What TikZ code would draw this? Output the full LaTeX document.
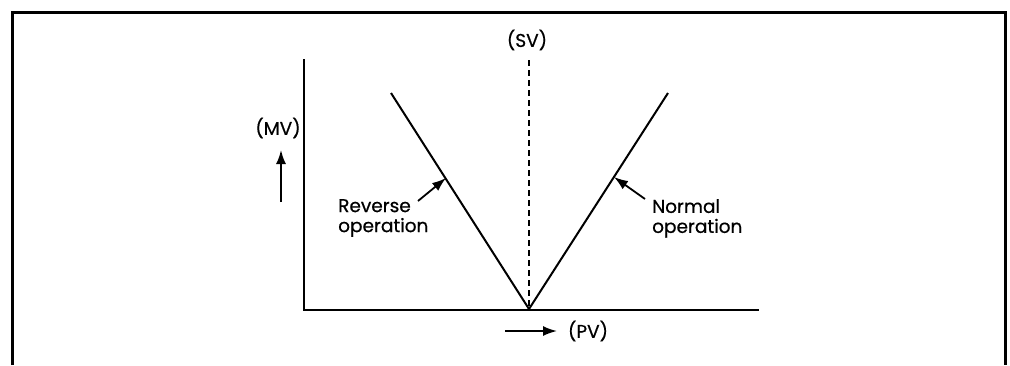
\documentclass[tikz,border=0pt]{standalone}
\usepackage{fontspec}
\setmainfont{Poppins}[FakeBold=0.6]
\usetikzlibrary{arrows.meta}
\begin{document}
\begin{tikzpicture}[x=1pt,y=-1pt,
  lbl/.style={inner sep=0pt,font=\fontsize{18.5}{20}\selectfont},
  multi/.style={lbl,align=left},
  graphline/.style={line width=2pt},
  ptr/.style={line width=1.8pt,-{Latex[length=14pt,width=10pt]}}]
\useasboundingbox (0,0) rectangle (1010,365);
% frame (open at the bottom)
\draw[line width=3pt] (12,365) -- (12,12) -- (1005,12) -- (1005,365);
% axes
\coordinate (top) at (304,59);
\coordinate (o) at (304,310);
\coordinate (right) at (759,310);
\draw[graphline,line width=2.2pt] (top) -- (o) -- (right);
% V lines
\coordinate (v) at (529,309);
\coordinate (lt) at (391,93);
\coordinate (rt) at (668,93);
\draw[graphline] (lt) -- (v) -- (rt);
% SV dashed line
\node[lbl] (sv) at (527,40) {(SV)};
\coordinate (svb) at (529,306);
\draw[line width=1.6pt,dash pattern=on 6pt off 4pt] (529,60) -- (svb);
% MV
\node[lbl] (mv) at (278,128) {(MV)};
\coordinate (mvt) at (281,202);
\coordinate (mvh) at (281,150);
\draw[ptr] (mvt) -- (mvh);
% PV
\node[lbl] (pv) at (588,331) {(PV)};
\coordinate (pvt) at (505,331);
\coordinate (pvh) at (557,331);
\draw[ptr] (pvt) -- (pvh);
% Reverse operation
\node[multi,anchor=north west] (rev) at (338,199) {Reverse\\operation};
\coordinate (revt) at (418,201);
\coordinate (revh) at (446,178);
\draw[ptr] (revt) -- (revh);
% Normal operation
\node[multi,anchor=north west] (nor) at (652,199) {Normal\\operation};
\coordinate (nort) at (645,199);
\coordinate (norh) at (614,177);
\draw[ptr] (nort) -- (norh);
\end{tikzpicture}
\end{document}
